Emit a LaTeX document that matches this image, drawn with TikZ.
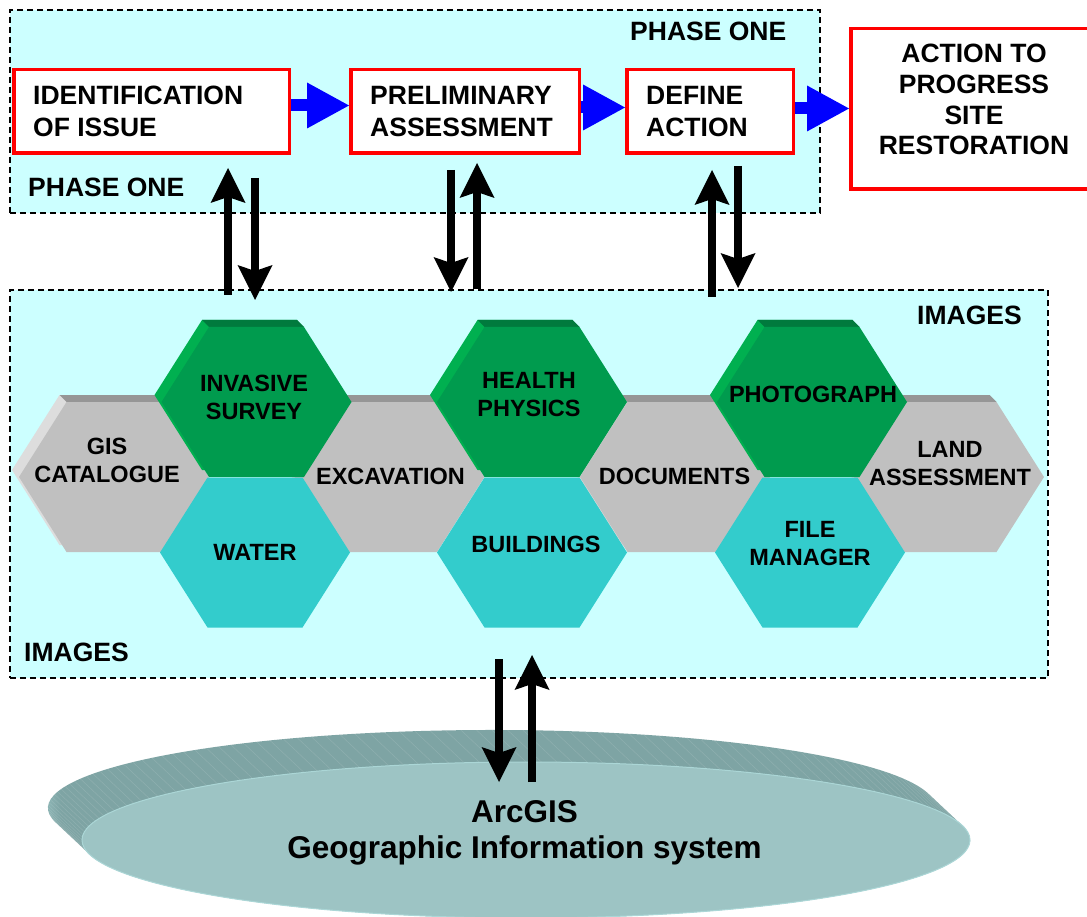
\documentclass[tikz,border=0pt]{standalone}
\usepackage{fontspec}
\setmainfont{Liberation Sans}
\usetikzlibrary{arrows.meta,calc}

\definecolor{panel}{HTML}{CCFFFF}
\definecolor{hexgreen}{HTML}{009B4E}
\definecolor{hexgreentop}{HTML}{007A3D}
\definecolor{hexgreenside}{HTML}{00B050}
\definecolor{hexgray}{HTML}{C0C0C0}
\definecolor{hexgraytop}{HTML}{969696}
\definecolor{hexgrayside}{HTML}{DDDDDD}
\definecolor{hexcyan}{HTML}{33CCCC}
\definecolor{discface}{HTML}{9DC4C4}
\definecolor{discside}{HTML}{7EA4A4}
\definecolor{discedge}{HTML}{B2E2E2}
\definecolor{discrim}{HTML}{ABD6D6}

% horizontal shading for the side of the base disc: light at the far left end
\pgfdeclarehorizontalshading{discsideshade}{100bp}{color(0bp)=(discedge); color(25bp)=(discedge); color(27.5bp)=(discside); color(100bp)=(discside)}

% flat-topped hexagon outline around (cx,cy), y pointing down
\newcommand{\hexoutline}[2]{(#1-95,#2) -- (#1-47.5,#2-75) -- (#1+47.5,#2-75) -- (#1+95,#2) -- (#1+47.5,#2+75) -- (#1-47.5,#2+75) -- cycle}
% extruded hexagon: back face, top band, front face
\newcommand{\prismhex}[5]{%
  \fill[#5] \hexoutline{#1-7}{#2-7};
  \fill[#4] (#1-47.5,#2-75) -- (#1+47.5,#2-75) -- (#1+40.5,#2-82) -- (#1-54.5,#2-82) -- cycle;
  \fill[#3] \hexoutline{#1}{#2};
}

\begin{document}
\begin{tikzpicture}[x=1pt,y=-1pt,
  panelbox/.style={draw=black, fill=panel, line width=1.4pt, dash pattern=on 6pt off 4pt, inner sep=0pt},
  redbox/.style={draw=red, fill=white, line width=3.5pt, inner sep=0pt},
  boxtext/.style={font=\fontsize{26.5}{32}\selectfont\bfseries, align=left, inner sep=0pt, anchor=north west},
  regionlabel/.style={font=\fontsize{26.5}{32}\selectfont\bfseries, inner sep=0pt, anchor=base west},
  hextext/.style={font=\fontsize{23.5}{28}\selectfont\bfseries, align=center, inner sep=0pt, anchor=north},
  gistext/.style={font=\fontsize{31.5}{36}\selectfont\bfseries, align=center, inner sep=0pt, anchor=north},
  flowarrow/.style={draw=blue, line width=12pt, -{Triangle[length=42pt,width=46pt,line width=0pt]}},
  linkarrow/.style={draw=black, line width=8pt, -{Stealth[length=35pt,width=35pt,inset=6pt,line width=0pt]}},
]
\fill[white] (0,0) rectangle (1087,917);
\clip (0,0) rectangle (1087,917);

% ---- the two dashed panels ----
\node[panelbox, minimum width=810pt, minimum height=203pt] (phase) at (415,111.5) {};
\node[panelbox, minimum width=1038pt, minimum height=388pt] (images) at (529,484) {};

% ---- base disc (ArcGIS) ----
\shade[shading=discsideshade] (55.5,822.3) arc[start angle=169.43, end angle=349.43, x radius=444, y radius=78]
  -- (962.5,825.7) arc[start angle=349.43, end angle=529.43, x radius=444, y radius=78] -- cycle;
\begin{scope}
  \clip (55.5,822.3) arc[start angle=169.43, end angle=349.43, x radius=444, y radius=78]
    -- (962.5,825.7) arc[start angle=349.43, end angle=529.43, x radius=444, y radius=78] -- cycle;
  \foreach \a in {172,174,...,346}
    \draw[white, opacity=.13, line width=.5pt] (492,808) ++(\a:444 and 78) -- ++(34,32);
\end{scope}
\fill[discface, draw=discrim, line width=1pt] (526,840) ellipse[x radius=444, y radius=78];

% ---- honeycomb ----
% middle row (grey)
\prismhex{114}{477}{hexgray}{hexgraytop}{hexgrayside}
\prismhex{389.5}{477}{hexgray}{hexgraytop}{hexgrayside}
\prismhex{675}{477}{hexgray}{hexgraytop}{hexgrayside}
\prismhex{949}{477}{hexgray}{hexgraytop}{hexgrayside}
% top row (green)
\prismhex{256.5}{402}{hexgreen}{hexgreentop}{hexgreenside}
\prismhex{532}{402}{hexgreen}{hexgreentop}{hexgreenside}
\prismhex{812}{402}{hexgreen}{hexgreentop}{hexgreenside}
% bottom row (cyan, flat)
\fill[hexcyan] \hexoutline{255}{552.5};
\fill[hexcyan] \hexoutline{532}{552.5};
\fill[hexcyan] \hexoutline{810}{552.5};

\node[hextext] (gis) at (107,438.2) {GIS\\CATALOGUE};
\node[hextext] (invasive) at (254,375.2) {INVASIVE\\SURVEY};
\node[hextext] (excavation) at (390.5,468.2) {EXCAVATION};
\node[hextext] (water) at (255,544.2) {WATER};
\node[hextext] (health) at (529,372.2) {HEALTH\\PHYSICS};
\node[hextext] (buildings) at (536,536.2) {BUILDINGS};
\node[hextext] (documents) at (674.5,468.2) {DOCUMENTS};
\node[hextext] (photograph) at (813,386.2) {PHOTOGRAPH};
\node[hextext] (land) at (950,441.2) {LAND\\ASSESSMENT};
\node[hextext] (filemgr) at (810,521.2) {FILE\\MANAGER};

% ---- panel labels ----
\node[regionlabel] (phasetop) at (630,41) {PHASE ONE};
\node[regionlabel] (phasebottom) at (28,197) {PHASE ONE};
\node[regionlabel] (imagestop) at (917,324) {IMAGES};
\node[regionlabel] (imagesbottom) at (24,661) {IMAGES};

% ---- process boxes ----
\node[redbox, minimum width=275.5pt, minimum height=83.5pt] (b1) at (151.5,111.5) {};
\node[redbox, minimum width=228.5pt, minimum height=83.5pt] (b2) at (465,111.5) {};
\node[redbox, minimum width=166.5pt, minimum height=83.5pt] (b3) at (710,111.5) {};
\node[redbox, minimum width=246.5pt, minimum height=160.5pt] (b4) at (974,109) {};

\node[boxtext] (t1) at (33,86) {IDENTIFICATION\\OF ISSUE};
\node[boxtext] (t2) at (370,86) {PRELIMINARY\\ASSESSMENT};
\node[boxtext] (t3) at (646,86) {DEFINE\\ACTION};
\node[boxtext, align=center, anchor=north, font=\fontsize{26.5}{30.7}\selectfont\bfseries] (t4) at (974,44) {ACTION TO\\PROGRESS\\SITE\\RESTORATION};

% ---- flow between boxes ----
\draw[flowarrow] ([yshift=6pt]b1.east) -- ([yshift=6pt]b2.west);
\draw[flowarrow] ([yshift=4pt]b2.east) -- ([yshift=4pt]b3.west);
\coordinate (a3) at ([yshift=3pt]b3.east);
\draw[flowarrow] (a3) -- (a3 -| b4.west);

% ---- links between phase boxes and the image set ----
\coordinate (l1u0) at (228,295);  \coordinate (l1u1) at (228,168);
\coordinate (l1d0) at (255,178);  \coordinate (l1d1) at (255,300);
\coordinate (l2d0) at (451,170);  \coordinate (l2d1) at (451,292);
\coordinate (l2u0) at (477,289);  \coordinate (l2u1) at (477,163);
\coordinate (l3u0) at (712,297);  \coordinate (l3u1) at (712,170);
\coordinate (l3d0) at (738,166);  \coordinate (l3d1) at (738,288);
\coordinate (l4d0) at (499,659);  \coordinate (l4d1) at (499,782);
\coordinate (l4u0) at (532,782);  \coordinate (l4u1) at (532,655);
\draw[linkarrow] (l1u0) -- (l1u1);
\draw[linkarrow] (l1d0) -- (l1d1);
\draw[linkarrow] (l2d0) -- (l2d1);
\draw[linkarrow] (l2u0) -- (l2u1);
\draw[linkarrow] (l3u0) -- (l3u1);
\draw[linkarrow] (l3d0) -- (l3d1);
\draw[linkarrow] (l4d0) -- (l4d1);
\draw[linkarrow] (l4u0) -- (l4u1);

% ---- disc caption ----
\node[gistext] (arcgis) at (524.5,800.4) {ArcGIS\\Geographic Information system};
\end{tikzpicture}
\end{document}
